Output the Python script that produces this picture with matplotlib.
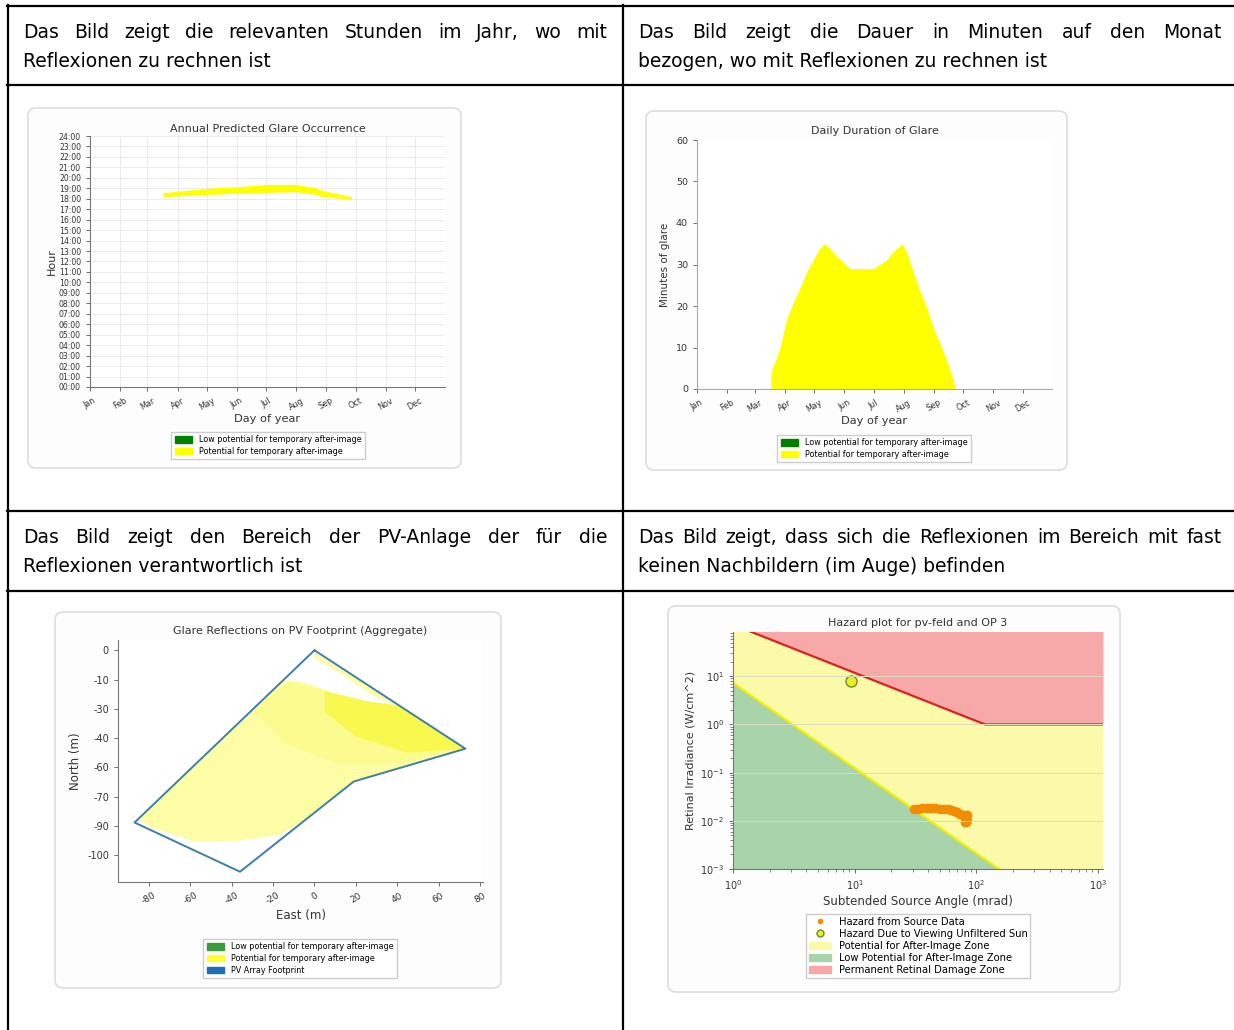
import matplotlib
matplotlib.use('Agg')
import matplotlib.pyplot as plt
from matplotlib.patches import FancyBboxPatch, Patch, Polygon
from matplotlib.lines import Line2D
from matplotlib.transforms import IdentityTransform

W, H = 1234, 1030

# table texts
cell_texts = {
    'tl': ["Das Bild zeigt die relevanten Stunden im Jahr, wo mit", "Reflexionen zu rechnen ist"],
    'tr': ["Das Bild zeigt die Dauer in Minuten auf den Monat", "bezogen, wo mit Reflexionen zu rechnen ist"],
    'bl': ["Das Bild zeigt den Bereich der PV-Anlage der für die", "Reflexionen verantwortlich ist"],
    'br': ["Das Bild zeigt, dass sich die Reflexionen im Bereich mit fast", "keinen Nachbildern (im Auge) befinden"],
}

months = ['Jan', 'Feb', 'Mar', 'Apr', 'May', 'Jun', 'Jul', 'Aug', 'Sep', 'Oct', 'Nov', 'Dec']
month_days = [1, 32, 60, 91, 121, 152, 182, 213, 244, 274, 305, 335]

# annual glare occurrence (day of year, hour band)
band_days = [76, 123, 135, 152, 183, 213, 231, 241, 270]
band_low = [18.2, 18.42, 18.45, 18.55, 18.61, 18.67, 18.45, 18.19, 17.94]
band_high = [18.58, 19.0, 19.09, 19.15, 19.37, 19.37, 19.09, 18.77, 18.19]

# daily duration of glare
dur_days = [76.5, 77, 80, 86, 93, 100, 106, 113, 120, 127, 132, 137, 144, 151, 158,
            182, 188, 195, 202, 211, 216, 223, 229, 236, 243, 250, 257, 264, 266]
dur_minutes = [0, 4, 6, 10, 17, 21, 24, 28, 31, 34, 35, 34, 32, 30.5, 29,
               29, 30, 31, 33, 35, 33, 28, 24, 20, 15, 11, 7, 2, 0]

# PV footprint (east, north in m)
footprint_east = [0, 73, 19, -36, -87, 0]
footprint_north = [0, -48, -64, -108, -84, 0]
glare_east = [-15, -5, 9, 25, 41, 73, 19, 5, 0, -17, -38, -57, -80, -85]
glare_north = [-14.5, -15.8, -20.7, -24.8, -27, -48, -64, -75, -80, -90, -93, -93.5, -86, -82]
mid_east = [-12, 9, 25, 41, 73, 40, 10, -15, -30]
mid_north = [-15, -20.7, -24.8, -27, -48, -55, -55, -45, -30]
strong_east = [5, 25, 41, 73, 45, 20, 5]
strong_north = [-20, -24.8, -27, -48, -50, -42, -30]
strip_east = [0, 41, 30, 12, 0]
strip_north = [-1, -27, -23, -11, -4]
north_ticks = [0, -14.3, -28.6, -42.9, -57.1, -71.4, -85.7, -100]
north_labels = ['0', '-10', '-30', '-40', '-60', '-70', '-90', '-100']
east_ticks = [-80, -60, -40, -20, 0, 20, 40, 60, 80]

# hazard plot
burn_x = [1, 118, 1100]
burn_y = [118, 1.0, 1.0]
after_x = [1, 153]
after_y = [7.3, 1e-3]
sun_x = [9.4]
sun_y = [8.1]
hazard_mrad = [31, 33, 36, 39, 42, 46, 50, 54, 58, 62, 66, 70, 74, 77, 80, 82, 84, 84, 83, 80]
hazard_irr = [0.018, 0.018, 0.0182, 0.0183, 0.0183, 0.0182, 0.018, 0.0178, 0.0175, 0.017,
              0.016, 0.015, 0.014, 0.013, 0.012, 0.011, 0.0105, 0.013, 0.0095, 0.0095]

TXT_FONT = 'DejaVu Sans'
TXT_SIZE = 13.5
CH = '#333333'


def fx(x):
    return x / W


def fy(y):
    return 1 - y / H


def rect(l, t, r, b):
    return [l / W, 1 - b / H, (r - l) / W, (b - t) / H]


def card(fig, l, t, r, b):
    p = FancyBboxPatch((l, H - b), r - l, b - t, boxstyle='round,pad=0,rounding_size=8',
                       transform=IdentityTransform(), fc='#fdfdfd', ec='#dddddd', lw=1.2, zorder=-1)
    fig.add_artist(p)


def put_line(fig, renderer, line, x0, x1, base, justify):
    if not justify:
        fig.text(fx(x0), fy(base), line, fontsize=TXT_SIZE, family=TXT_FONT, va='baseline', ha='left')
        return
    words = line.split()
    texts = [fig.text(0, fy(base), w, fontsize=TXT_SIZE, family=TXT_FONT, va='baseline', ha='left')
             for w in words]
    widths = [t.get_window_extent(renderer).width for t in texts]
    gap = (x1 - x0 - sum(widths)) / (len(words) - 1)
    x = x0
    for t, w in zip(texts, widths):
        t.set_x(fx(x))
        x += w + gap


def style_axes(ax):
    for s in ['top', 'right']:
        ax.spines[s].set_visible(False)
    for s in ['left', 'bottom']:
        ax.spines[s].set_color('#777777')
        ax.spines[s].set_linewidth(0.8)
    ax.tick_params(colors='#555555', labelcolor=CH, length=3, width=0.6)


def draw_table(fig):
    renderer = fig.canvas.get_renderer()
    kw = dict(color='black', lw=1.6, transform=fig.transFigure)
    for y in [5.5, 85, 510.5, 590.5]:
        fig.add_artist(Line2D([fx(7), fx(1234)], [fy(y), fy(y)], **kw))
    for x in [8, 623]:
        fig.add_artist(Line2D([fx(x), fx(x)], [fy(4.5), fy(1030)], **kw))
    spots = {'tl': (23, 607, 38), 'tr': (638, 1222, 38), 'bl': (23, 607, 543), 'br': (638, 1222, 543)}
    for key, (x0, x1, base) in spots.items():
        l1, l2 = cell_texts[key]
        put_line(fig, renderer, l1, x0, x1, base, True)
        put_line(fig, renderer, l2, x0, x1, base + 29, False)


def plot_annual(fig):
    card(fig, 28, 108, 461, 468)
    ax = fig.add_axes(rect(90, 136, 445, 387))
    ax.fill_between(band_days, band_low, band_high, color='#ffff00', lw=0)
    ax.set_xlim(1, 366)
    ax.set_ylim(0, 24)
    ax.set_xticks(month_days)
    ax.set_xticklabels(months, rotation=30, fontsize=5.8)
    ax.set_yticks(range(25))
    ax.set_yticklabels(['%02d:00' % h for h in range(25)], fontsize=5.6)
    ax.grid(color='#e8e8e8', lw=0.6)
    ax.set_axisbelow(True)
    style_axes(ax)
    ax.set_title('Annual Predicted Glare Occurrence', fontsize=8, color=CH, pad=3)
    ax.set_xlabel('Day of year', fontsize=8.2, color=CH, labelpad=1)
    ax.set_ylabel('Hour', fontsize=8, color=CH, labelpad=1)
    handles = [Patch(color='#008000', label='Low potential for temporary after-image'),
               Patch(color='#ffff00', label='Potential for temporary after-image')]
    fig.legend(handles=handles, loc='upper center', bbox_to_anchor=(fx(268), fy(428)), fontsize=5.8,
               fancybox=False, edgecolor='#cccccc', handlelength=2.2, handleheight=0.8,
               borderpad=0.4, labelspacing=0.35, framealpha=1)


def plot_duration(fig):
    card(fig, 646, 111, 1067, 470)
    ax = fig.add_axes(rect(697, 140, 1052, 389))
    ax.fill_between(dur_days, 0, dur_minutes, color='#ffff00', lw=0)
    ax.set_xlim(1, 365)
    ax.set_ylim(0, 60)
    ax.set_xticks(month_days)
    ax.set_xticklabels(months, rotation=30, fontsize=5.8)
    ax.set_yticks(range(0, 61, 10))
    ax.tick_params(axis='y', labelsize=6.8)
    style_axes(ax)
    ax.spines['left'].set_color('#aaaaaa')
    ax.spines['bottom'].set_color('#aaaaaa')
    ax.set_title('Daily Duration of Glare', fontsize=8, color=CH, pad=4)
    ax.set_xlabel('Day of year', fontsize=8.2, color=CH, labelpad=1)
    ax.set_ylabel('Minutes of glare', fontsize=7.5, color=CH, labelpad=4)
    handles = [Patch(color='#008000', label='Low potential for temporary after-image'),
               Patch(color='#ffff00', label='Potential for temporary after-image')]
    fig.legend(handles=handles, loc='upper center', bbox_to_anchor=(fx(874), fy(431)), fontsize=5.8,
               fancybox=False, edgecolor='#cccccc', handlelength=2.2, handleheight=0.8,
               borderpad=0.4, labelspacing=0.35, framealpha=1)


def plot_footprint(fig):
    card(fig, 55, 612, 501, 988)
    ax = fig.add_axes(rect(118, 640, 483, 882))
    ax.add_patch(Polygon(list(zip(glare_east, glare_north)), closed=True, fc='#fdfda6', ec='none'))
    ax.add_patch(Polygon(list(zip(strip_east, strip_north)), closed=True, fc='#fbfb70', ec='none', alpha=0.6))
    ax.add_patch(Polygon(list(zip(mid_east, mid_north)), closed=True, fc='#f9f960', ec='none', alpha=0.3))
    ax.add_patch(Polygon(list(zip(strong_east, strong_north)), closed=True, fc='#f5f500', ec='none', alpha=0.45))
    ax.plot(footprint_east, footprint_north, color='#3f7fa6', lw=1.4)
    ax.set_xlim(-95, 81.5)
    ax.set_ylim(-113, 5)
    ax.set_xticks(east_ticks)
    ax.set_xticklabels([str(v) for v in east_ticks], rotation=30, fontsize=6.5)
    ax.set_yticks(north_ticks)
    ax.set_yticklabels(north_labels, fontsize=7)
    style_axes(ax)
    ax.set_title('Glare Reflections on PV Footprint (Aggregate)', fontsize=8, color=CH, pad=4)
    ax.set_xlabel('East (m)', fontsize=8.5, color=CH, labelpad=2)
    ax.set_ylabel('North (m)', fontsize=8.5, color=CH, labelpad=4)
    handles = [Patch(color='#3c9a3c', label='Low potential for temporary after-image'),
               Patch(color='#ffff33', label='Potential for temporary after-image'),
               Patch(color='#1f6fb4', label='PV Array Footprint')]
    fig.legend(handles=handles, loc='upper center', bbox_to_anchor=(fx(300), fy(935)), fontsize=5.8,
               fancybox=False, edgecolor='#cccccc', handlelength=2.2, handleheight=0.8,
               borderpad=0.4, labelspacing=0.35, framealpha=1)


def plot_hazard(fig):
    card(fig, 668, 606, 1120, 992)
    ax = fig.add_axes(rect(733, 632, 1103, 869))
    ax.set_xscale('log')
    ax.set_yscale('log')
    ax.set_facecolor('#fafaa8')
    ax.fill_between(after_x, after_y, 1e-3, color='#a9d4a9', lw=0)
    ax.fill_between(burn_x, burn_y, 1e3, color='#f7a9a9', lw=0)
    ax.plot(after_x, after_y, color='#f0f000', lw=1.6)
    ax.plot(burn_x, burn_y, color='#e02020', lw=1.6)
    ax.plot(hazard_mrad, hazard_irr, 'o', color='#f28c00', ms=7, mec='none')
    ax.plot(sun_x, sun_y, 'o', mfc='#e6f01e', mec='#6f8a3a', ms=8, mew=1)
    ax.set_xlim(1, 1100)
    ax.set_ylim(1e-3, 83)
    ax.yaxis.grid(True, which='major', color='#dcdcc0', lw=0.7)
    ax.set_axisbelow(False)
    style_axes(ax)
    ax.tick_params(labelsize=7)
    ax.tick_params(which='minor', colors='#555555', length=2, width=0.5)
    ax.set_title('Hazard plot for pv-feld and OP 3', fontsize=8, color=CH, pad=4)
    ax.set_xlabel('Subtended Source Angle (mrad)', fontsize=8.5, color=CH, labelpad=2)
    ax.set_ylabel('Retinal Irradiance (W/cm^2)', fontsize=8, color=CH, labelpad=3)
    handles = [Line2D([], [], ls='none', marker='o', color='#f28c00', ms=4, mec='none',
                      label='Hazard from Source Data'),
               Line2D([], [], ls='none', marker='o', mfc='#e6f01e', mec='#6f8a3a', ms=5,
                      label='Hazard Due to Viewing Unfiltered Sun'),
               Patch(color='#fafaa8', label='Potential for After-Image Zone'),
               Patch(color='#a9d4a9', label='Low Potential for After-Image Zone'),
               Patch(color='#f7a9a9', label='Permanent Retinal Damage Zone')]
    fig.legend(handles=handles, loc='upper center', bbox_to_anchor=(fx(918), fy(909)), fontsize=7.2,
               fancybox=False, edgecolor='#cccccc', handlelength=2.2, handleheight=0.8,
               borderpad=0.3, labelspacing=0.2, framealpha=1)


def main():
    fig = plt.figure(figsize=(W / 100, H / 100), dpi=100)
    fig.patch.set_facecolor('white')
    draw_table(fig)
    plot_annual(fig)
    plot_duration(fig)
    plot_footprint(fig)
    plot_hazard(fig)
    fig.savefig('out.png', dpi=100)


if __name__ == "__main__":
    main()
